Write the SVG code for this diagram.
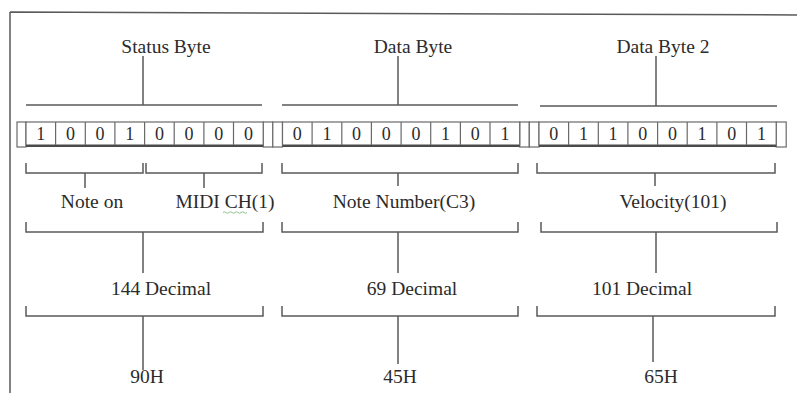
<svg xmlns="http://www.w3.org/2000/svg" width="797" height="396" viewBox="0 0 797 396">
<style>
  .t { font-family: "Liberation Serif", "Times New Roman", serif; font-size: 19.5px; fill: #2b2b2b; text-anchor: middle; }
  .d { font-family: "Liberation Serif", "Times New Roman", serif; font-size: 18px; fill: #2b2b2b; text-anchor: middle; }
  .ln { stroke: #5a5a5a; stroke-width: 1.5; fill: none; }
  .cell { stroke: #6a6a6a; stroke-width: 1.2; fill: #ffffff; }
  .shadow { stroke: #4a4a4a; stroke-width: 2; }
</style>
<rect width="797" height="396" fill="#ffffff"/>
<g id="frame">
  <path class="ln" d="M10 12 L797 15 M10 12 L10 393"/>
</g>

<g id="byte-row">
  <rect class="cell" x="17" y="122" width="9" height="25"/>
  <rect class="cell" x="263.2" y="122" width="9.6" height="25"/>
  <rect class="cell" x="272.8" y="122" width="9.7" height="25"/>
  <rect class="cell" x="519.7" y="122" width="9.6" height="25"/>
  <rect class="cell" x="529.3" y="122" width="9.7" height="25"/>
  <rect class="cell" x="776.2" y="122" width="10" height="25"/>
  <g id="byte1">
    <rect class="cell" x="26" y="122" width="237.2" height="23"/>
    <path class="cell" d="M55.6 122V145M85.3 122V145M114.9 122V145M144.6 122V145M174.2 122V145M203.9 122V145M233.5 122V145"/>
    <line class="shadow" x1="26" y1="146" x2="263.2" y2="146"/>
    <text class="d" y="140"><tspan x="40.8">1</tspan><tspan x="70.5">0</tspan><tspan x="100.1">0</tspan><tspan x="129.8">1</tspan><tspan x="159.4">0</tspan><tspan x="189.1">0</tspan><tspan x="218.7">0</tspan><tspan x="248.4">0</tspan></text>
  </g>
  <g id="byte2">
    <rect class="cell" x="282.5" y="122" width="237.2" height="23"/>
    <path class="cell" d="M312.1 122V145M341.8 122V145M371.4 122V145M401.1 122V145M430.7 122V145M460.4 122V145M490 122V145"/>
    <line class="shadow" x1="282.5" y1="146" x2="519.7" y2="146"/>
    <text class="d" y="140"><tspan x="297.3">0</tspan><tspan x="327">1</tspan><tspan x="356.6">0</tspan><tspan x="386.3">0</tspan><tspan x="415.9">0</tspan><tspan x="445.6">1</tspan><tspan x="475.2">0</tspan><tspan x="504.9">1</tspan></text>
  </g>
  <g id="byte3">
    <rect class="cell" x="539" y="122" width="237.2" height="23"/>
    <path class="cell" d="M568.6 122V145M598.3 122V145M627.9 122V145M657.6 122V145M687.2 122V145M716.9 122V145M746.5 122V145"/>
    <line class="shadow" x1="539" y1="146" x2="776.2" y2="146"/>
    <text class="d" y="140"><tspan x="553.8">0</tspan><tspan x="583.5">1</tspan><tspan x="613.1">1</tspan><tspan x="642.8">0</tspan><tspan x="672.4">0</tspan><tspan x="702.1">1</tspan><tspan x="731.7">0</tspan><tspan x="761.4">1</tspan></text>
  </g>
</g>

<g id="connectors">
  <!-- top brackets -->
  <path class="ln" d="M26 105H262M143 56V105"/>
  <path class="ln" d="M282 105H518M398 56V105"/>
  <path class="ln" d="M540 106H777M656 56V106"/>
  <!-- below bytes -->
  <path class="ln" d="M26 163V173H143V163M85 173V188"/>
  <path class="ln" d="M146 163V173H262V163M204 173V188"/>
  <path class="ln" d="M282 163V173H518V163M398 173V186"/>
  <path class="ln" d="M537 163V173H775V163M655 173V186"/>
  <!-- decimal brackets -->
  <path class="ln" d="M26 222V232H263V222M143 232V273"/>
  <path class="ln" d="M282 222V232H518V222M398 232V273"/>
  <path class="ln" d="M541 222V232H777V222M656 232V273"/>
  <!-- hex brackets -->
  <path class="ln" d="M26 306V316H263V306M143 316V370"/>
  <path class="ln" d="M282 306V316H518V306M398 316V364"/>
  <path class="ln" d="M537 306V316H775V306M653 316V362"/>
</g>

<g id="status-byte"><text class="t" x="166" y="53">Status Byte</text></g>
<g id="data-byte"><text class="t" x="413" y="53">Data Byte</text></g>
<g id="data-byte-2"><text class="t" x="663" y="53">Data Byte 2</text></g>
<g id="note-on"><text class="t" x="92" y="208">Note on</text></g>
<g id="midi-ch"><text class="t" x="225" y="208">MIDI CH(1)</text>
  <path d="M223 212.5q1.5 -1.5 3 0t3 0t3 0t3 0t3 0t3 0t3 0t3 0" stroke="#8fc28f" stroke-width="1" fill="none"/></g>
<g id="note-number"><text class="t" x="404" y="208">Note Number(C3)</text></g>
<g id="velocity"><text class="t" x="673" y="208">Velocity(101)</text></g>
<g id="dec-144"><text class="t" x="161" y="295">144 Decimal</text></g>
<g id="dec-69"><text class="t" x="412" y="295">69 Decimal</text></g>
<g id="dec-101"><text class="t" x="642" y="295">101 Decimal</text></g>
<g id="hex-90"><text class="t" x="147" y="383">90H</text></g>
<g id="hex-45"><text class="t" x="400" y="383">45H</text></g>
<g id="hex-65"><text class="t" x="661" y="383">65H</text></g>
</svg>
